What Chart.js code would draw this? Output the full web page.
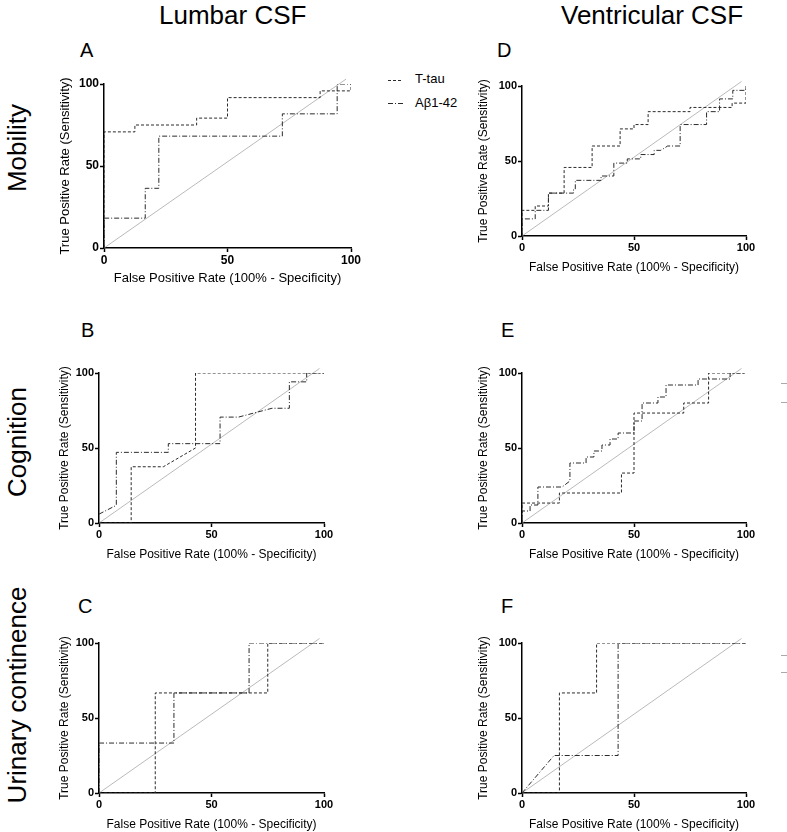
<!DOCTYPE html>
<html>
<head>
<meta charset="utf-8">
<script src="https://cdn.jsdelivr.net/npm/chart.js@4"></script>
<style>
    body { margin: 0; background: #fff; }
    #figura { position: relative; width: 787px; height: 832px; overflow: hidden; font-family: "Liberation Sans", Arial, sans-serif; color: #000; }
    .cabecalho { position: absolute; top: 2px; font-size: 26px; line-height: 26px; white-space: nowrap; }
    .letra { position: absolute; font-size: 20px; line-height: 20px; }
    .linha { position: absolute; width: 240px; height: 30px; line-height: 30px; font-size: 26px; text-align: center; transform: rotate(-90deg); white-space: nowrap; }
    .legenda { position: absolute; left: 415px; font-size: 13px; line-height: 14px; }
    .resto { position: absolute; left: 781px; width: 6px; height: 1px; background: #aaa; }
    canvas { position: absolute; }
</style>
</head>
<body>
<div id="figura">
    <div class="cabecalho" style="left:159px">Lumbar CSF</div>
    <div class="cabecalho" style="left:561px">Ventricular CSF</div>

    <div class="linha" style="left:-103px; top:133px">Mobility</div>
    <div class="linha" style="left:-103px; top:427px">Cognition</div>
    <div class="linha" style="left:-103px; top:680px">Urinary continence</div>

    <div class="letra" style="left:80px; top:40px">A</div>
    <div class="letra" style="left:497px; top:40px">D</div>
    <div class="letra" style="left:81px; top:320px">B</div>
    <div class="letra" style="left:501px; top:320px">E</div>
    <div class="letra" style="left:78px; top:596px">C</div>
    <div class="letra" style="left:501px; top:596px">F</div>

    <canvas id="amostras" width="24" height="40" style="left:384px; top:70px"></canvas>
    <div class="legenda" style="top:72px">T-tau</div>
    <div class="legenda" style="top:96px">A&beta;1-42</div>

    <div class="resto" style="top:383px"></div>
    <div class="resto" style="top:402px"></div>
    <div class="resto" style="top:655px"></div>
    <div class="resto" style="top:672px"></div>
</div>

<script>
const marcasEixo = [0, 50, 100];
const linhaIdentidade = [[0, 0], [98, 103]];

// A - Mobility, lumbar CSF
const mobLombarTtau = [[0, 0], [0, 70.8], [12.5, 70.8], [12.5, 75], [37.5, 75], [37.5, 79.2], [50, 79.2], [50, 91.7], [87.5, 91.7], [87.5, 95.8], [100, 95.8], [100, 100]];
const mobLombarAbeta = [[0, 0], [0, 18.2], [16.7, 18.2], [16.7, 36.4], [22.2, 36.4], [22.2, 68.2], [72.2, 68.2], [72.2, 81.8], [94.4, 81.8], [94.4, 100], [100, 100]];

// D - Mobility, ventricular CSF
const mobVentrTtau = [[0, 0], [0, 17.1], [5.9, 17.1], [5.9, 20], [11.8, 20], [11.8, 28.6], [18.8, 28.6], [18.8, 45.7], [31.3, 45.7], [31.3, 60], [43.8, 60], [43.8, 71.4], [50, 71.4], [50, 74.3], [56.3, 74.3], [56.3, 82.9], [75, 82.9], [75, 85.7], [93.8, 85.7], [93.8, 88.6], [100, 88.6], [100, 100]];
const mobVentrAbeta = [[0, 0], [0, 11.4], [5.9, 11.4], [5.9, 17.1], [11.8, 17.1], [11.8, 28.6], [23, 28.6], [23, 31.4], [23.8, 31.4], [23.8, 37.1], [35.3, 37.1], [35.3, 40], [41, 40], [41, 48.6], [47, 48.6], [47, 51.4], [53, 51.4], [53, 54.3], [59, 54.3], [59, 57.1], [62, 57.1], [65, 60], [70.6, 60], [70.6, 74.3], [82.4, 74.3], [82.4, 82.9], [88.2, 82.9], [88.2, 91.4], [94.1, 91.4], [94.1, 97.1], [100, 97.1], [100, 100]];

// B - Cognition, lumbar CSF
const cogLombarTtau = [[0, 0], [14.3, 0], [14.3, 37.5], [28.6, 37.5], [42.9, 50], [42.9, 100], [100, 100]];
const cogLombarAbeta = [[0, 5.9], [7.7, 11.8], [7.7, 47.1], [30.8, 47.1], [30.8, 52.9], [53.8, 52.9], [53.8, 70.6], [62, 70.6], [76.9, 76.5], [84.6, 76.5], [84.6, 94.1], [92.3, 94.1], [92.3, 100], [100, 100]];

// E - Cognition, ventricular CSF
const cogVentrTtau = [[0, 0], [0, 13.3], [16.7, 13.3], [16.7, 20], [44.4, 20], [44.4, 33.3], [50, 33.3], [50, 73.3], [72.2, 73.3], [72.2, 80], [83.3, 80], [83.3, 100], [100, 100]];
const cogVentrAbeta = [[0, 0], [0, 8], [3.6, 8], [3.6, 12], [7.1, 12], [7.1, 24], [17.9, 24], [21.4, 28], [21.4, 40], [28.6, 40], [28.6, 44], [32.1, 44], [32.1, 48], [35.7, 48], [35.7, 52], [39.3, 52], [39.3, 56], [42.9, 56], [42.9, 60], [50, 60], [50, 68], [53.6, 68], [53.6, 80], [60.7, 80], [60.7, 84], [64.3, 84], [64.3, 92], [78.6, 92], [78.6, 96], [92.9, 96], [92.9, 100], [100, 100]];

// C - Urinary continence, lumbar CSF
const urinLombarTtau = [[0, 0], [25, 0], [25, 66.7], [75, 66.7], [75, 100], [100, 100]];
const urinLombarAbeta = [[0, 0], [0, 33.3], [33.3, 33.3], [33.3, 66.7], [66.7, 66.7], [66.7, 100], [100, 100]];

// F - Urinary continence, ventricular CSF
const urinVentrTtau = [[0, 0], [16.7, 0], [16.7, 66.7], [33.3, 66.7], [33.3, 100], [100, 100]];
const urinVentrAbeta = [[0, 0], [14.3, 25], [42.9, 25], [42.9, 100], [100, 100]];

const tracoTtau = [3, 2];
const tracoAbeta = [5, 2, 1, 2];
const corCurva = "#2b2b2b";
const fonte = "'Liberation Sans', Arial, sans-serif";

Chart.defaults.font.family = fonte;
Chart.defaults.color = "#000";

// caixa do gráfico em pixels da página: x0/x1 = eixo 0..100, yTopo/yBase = 100..0
const paineis = [
    { x0: 104, x1: 351, yTopo: 84, yBase: 248, larguraY: 50, alturaX: 42, tick: 12, titulo: 13, ttau: mobLombarTtau, abeta: mobLombarAbeta },
    { x0: 522, x1: 746, yTopo: 86, yBase: 236, larguraY: 50, alturaX: 43, tick: 11, titulo: 12, ttau: mobVentrTtau, abeta: mobVentrAbeta },
    { x0: 99, x1: 324, yTopo: 373, yBase: 523, larguraY: 46, alturaX: 43, tick: 11, titulo: 12, ttau: cogLombarTtau, abeta: cogLombarAbeta },
    { x0: 522, x1: 746, yTopo: 373, yBase: 523, larguraY: 50, alturaX: 43, tick: 11, titulo: 12, ttau: cogVentrTtau, abeta: cogVentrAbeta },
    { x0: 99, x1: 324, yTopo: 643, yBase: 793, larguraY: 46, alturaX: 43, tick: 11, titulo: 12, ttau: urinLombarTtau, abeta: urinLombarAbeta },
    { x0: 522, x1: 746, yTopo: 643, yBase: 793, larguraY: 50, alturaX: 43, tick: 11, titulo: 12, ttau: urinVentrTtau, abeta: urinVentrAbeta }
];

const margemTopo = 10;
const margemDireita = 16;

function pontos(lista) {
    return lista.map(function (p) {
        return { x: p[0], y: p[1] };
    });
}

function eixo(painel, titulo, horizontal) {
    return {
        type: "linear",
        min: 0,
        max: 100,
        afterBuildTicks: function (escala) {
            escala.ticks = marcasEixo.map(function (v) { return { value: v }; });
        },
        afterFit: function (escala) {
            if (horizontal) {
                escala.height = painel.alturaX;
            } else {
                escala.width = painel.larguraY;
            }
        },
        ticks: {
            padding: 1,
            color: "#000",
            font: { size: painel.tick, weight: "bold" }
        },
        grid: {
            drawOnChartArea: false,
            tickLength: 4,
            tickWidth: 1.5,
            tickColor: "#000"
        },
        border: { color: "#000", width: 1.5 },
        title: {
            display: true,
            text: titulo,
            color: "#000",
            font: { size: painel.titulo }
        }
    };
}

const figura = document.getElementById("figura");

paineis.forEach(function (painel) {
    const canvas = document.createElement("canvas");
    const largura = painel.x1 - painel.x0 + painel.larguraY + margemDireita;
    const altura = painel.yBase - painel.yTopo + margemTopo + painel.alturaX;
    canvas.width = largura;
    canvas.height = altura;
    canvas.style.left = (painel.x0 - painel.larguraY) + "px";
    canvas.style.top = (painel.yTopo - margemTopo) + "px";
    figura.appendChild(canvas);

    new Chart(canvas, {
        type: "line",
        data: {
            datasets: [
                {
                    label: "T-tau",
                    data: pontos(painel.ttau),
                    borderColor: corCurva,
                    borderWidth: 1,
                    borderDash: tracoTtau,
                    pointRadius: 0,
                    tension: 0,
                    order: 1
                },
                {
                    label: "Aβ1-42",
                    data: pontos(painel.abeta),
                    borderColor: corCurva,
                    borderWidth: 1,
                    borderDash: tracoAbeta,
                    pointRadius: 0,
                    tension: 0,
                    order: 2
                },
                {
                    label: "identidade",
                    data: pontos(linhaIdentidade),
                    borderColor: "#a8a8a8",
                    borderWidth: 0.8,
                    pointRadius: 0,
                    tension: 0,
                    clip: false,
                    order: 3
                }
            ]
        },
        options: {
            responsive: false,
            animation: false,
            devicePixelRatio: 1,
            layout: {
                padding: { top: margemTopo, right: margemDireita, left: 0, bottom: 0 }
            },
            plugins: {
                legend: { display: false },
                tooltip: { enabled: false }
            },
            scales: {
                x: eixo(painel, "False Positive Rate (100% - Specificity)", true),
                y: eixo(painel, "True Positive Rate (Sensitivity)", false)
            }
        }
    });
});

// amostras de traço da legenda
const amostras = document.getElementById("amostras").getContext("2d");
amostras.strokeStyle = corCurva;
amostras.lineWidth = 1;
amostras.setLineDash(tracoTtau);
amostras.beginPath();
amostras.moveTo(4, 10.5);
amostras.lineTo(19, 10.5);
amostras.stroke();
amostras.setLineDash(tracoAbeta);
amostras.beginPath();
amostras.moveTo(4, 33.5);
amostras.lineTo(19, 33.5);
amostras.stroke();
</script>
</body>
</html>
